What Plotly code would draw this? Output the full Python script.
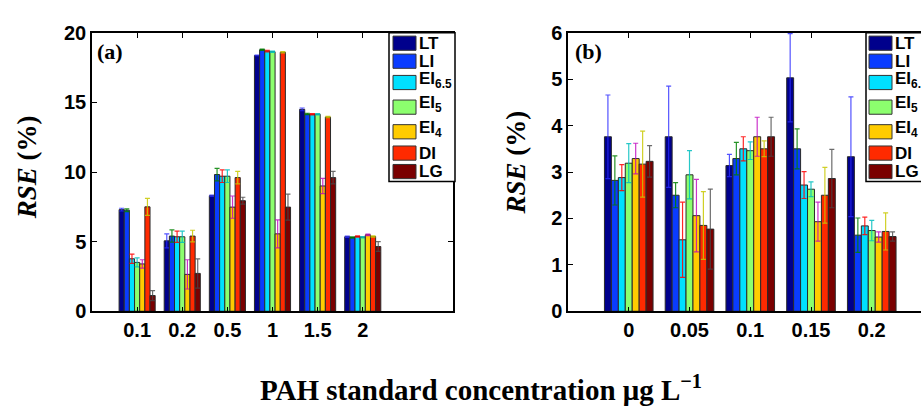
import plotly.graph_objects as go

# ---------------- data ----------------
series = ["LT", "LI", "EI6.5", "EI5", "EI4", "DI", "LG"]
legend_labels = ["LT", "LI", "EI<sub>6.5</sub>", "EI<sub>5</sub>", "EI<sub>4</sub>", "DI", "LG"]

cats_a = ["0.1", "0.2", "0.5", "1", "1.5", "2"]
LT_a = [7.30, 5.06, 8.30, 18.37, 14.50, 5.35]
LI_a = [7.26, 5.40, 9.82, 18.78, 14.17, 5.30]
EI65_a = [3.77, 5.35, 9.70, 18.68, 14.15, 5.37]
EI5_a = [3.51, 5.35, 9.70, 18.64, 14.15, 5.32]
EI4_a = [3.40, 2.65, 7.48, 5.56, 9.00, 5.49]
DI_a = [7.50, 5.40, 9.60, 18.60, 13.95, 5.37]
LG_a = [1.13, 2.72, 7.94, 7.48, 9.60, 4.65]

LT_a_err = [0.10, 0.50, 0.05, 0.02, 0.10, 0.05]
LI_a_err = [0.10, 0.44, 0.45, 0.05, 0.05, 0.05]
EI65_a_err = [0.33, 0.40, 0.45, 0.05, 0.05, 0.05]
EI5_a_err = [0.32, 0.40, 0.45, 0.05, 0.05, 0.05]
EI4_a_err = [0.30, 1.05, 0.80, 1.00, 0.55, 0.05]
DI_a_err = [0.61, 0.42, 0.45, 0.05, 0.05, 0.05]
LG_a_err = [0.36, 1.05, 0.25, 0.93, 0.45, 0.35]

cats_b = ["0", "0.05", "0.1", "0.15", "0.2"]
LT_b = [3.76, 3.76, 3.14, 5.03, 3.33]
LI_b = [2.82, 2.50, 3.29, 3.50, 1.64]
EI65_b = [2.88, 1.54, 3.50, 2.72, 1.84]
EI5_b = [3.19, 2.94, 3.46, 2.63, 1.74]
EI4_b = [3.29, 2.06, 3.76, 1.93, 1.60]
DI_b = [3.17, 1.85, 3.50, 2.50, 1.72]
LG_b = [3.23, 1.77, 3.76, 2.86, 1.61]

LT_b_err = [0.90, 1.09, 0.24, 0.95, 1.29]
LI_b_err = [0.53, 0.27, 0.35, 0.43, 0.37]
EI65_b_err = [0.28, 0.81, 0.26, 0.29, 0.19]
EI5_b_err = [0.42, 0.52, 0.19, 0.16, 0.22]
EI4_b_err = [0.33, 0.78, 0.42, 0.42, 0.11]
DI_b_err = [0.71, 0.73, 0.17, 0.60, 0.40]
LG_b_err = [0.34, 0.86, 0.42, 0.63, 0.10]

# ---------------- style ----------------
bar_colors = ["#00008C", "#0A3CFF", "#00E0FF", "#8CFF6E", "#FFCC00", "#FF2A00", "#7A0000"]
err_colors = ["rgba(40,40,255,0.8)", "rgba(0,128,0,0.85)", "rgba(255,0,0,0.85)",
              "rgba(0,190,190,0.85)", "rgba(190,0,190,0.8)", "rgba(200,200,0,0.85)",
              "rgba(70,70,70,0.8)"]

W, H = 921, 417
def px(x):
    return x / W
def py(y):
    return 1 - y / H

vals_a = [LT_a, LI_a, EI65_a, EI5_a, EI4_a, DI_a, LG_a]
errs_a = [LT_a_err, LI_a_err, EI65_a_err, EI5_a_err, EI4_a_err, DI_a_err, LG_a_err]
vals_b = [LT_b, LI_b, EI65_b, EI5_b, EI4_b, DI_b, LG_b]
errs_b = [LT_b_err, LI_b_err, EI65_b_err, EI5_b_err, EI4_b_err, DI_b_err, LG_b_err]

fig = go.Figure()
for i, name in enumerate(series):
    for cats, vals, errs, xa, ya in [(cats_a, vals_a, errs_a, "x", "y"),
                                      (cats_b, vals_b, errs_b, "x2", "y2")]:
        fig.add_trace(go.Bar(
            x=cats, y=vals[i], name=name, xaxis=xa, yaxis=ya, showlegend=False,
            offsetgroup=str(i),
            marker=dict(color=bar_colors[i], line=dict(color="#2a2a2a", width=1)),
            error_y=dict(type="data", array=errs[i], visible=True,
                         color=err_colors[i], thickness=1.2, width=2.5),
        ))

tickfont = dict(family="Liberation Sans, Arial, sans-serif", size=20, color="black", weight="bold")
ydom = [py(317), py(23)]
axis_common = dict(showline=True, linecolor="black", linewidth=1.5, ticks="inside",
                   ticklen=5, tickcolor="black", tickfont=tickfont, showgrid=False,
                   zeroline=False)

fig.update_layout(
    width=W, height=H, margin=dict(l=0, r=0, t=0, b=0),
    paper_bgcolor="white", plot_bgcolor="white",
    barmode="group", bargap=0.2, bargroupgap=0.0,
    xaxis=dict(domain=[px(92), px(453)], type="category", range=[-1, 7],
               mirror="ticks", anchor="y", **axis_common),
    yaxis=dict(domain=ydom, range=[0, 20], dtick=5, mirror="ticks", anchor="x",
               **axis_common),
    xaxis2=dict(domain=[px(568), 1.0], type="category", range=[-1, (921 - 568) / 60.75 - 1],
                mirror="ticks", anchor="y2", **axis_common),
    yaxis2=dict(domain=ydom, range=[0, 6], dtick=1, anchor="x2", **axis_common),
)

shapes = []
annotations = []
serif = "Liberation Serif, Times New Roman, serif"
sans = "Liberation Sans, Arial, sans-serif"

# legends (drawn as boxes)
row_centers = [34, 53, 75.5, 101.5, 127.5, 150, 169.5]
text_offsets = [0, 0, -3, -3, -3, 0, 0]
for (bx0, bx1, sx0) in [(389, 455, 393), (866, 940, 869)]:
    shapes.append(dict(type="rect", xref="paper", yref="paper",
                       x0=px(bx0), x1=px(bx1), y0=py(180), y1=py(23),
                       fillcolor="white", line=dict(color="black", width=1.5), layer="above"))
    for i, lab in enumerate(legend_labels):
        cy = row_centers[i]
        shapes.append(dict(type="rect", xref="paper", yref="paper",
                           x0=px(sx0), x1=px(sx0 + 23), y0=py(cy + 7.5), y1=py(cy - 7.5),
                           fillcolor=bar_colors[i], line=dict(color="#333333", width=1),
                           layer="above"))
        annotations.append(dict(xref="paper", yref="paper", x=px(sx0 + 24),
                                y=py(cy + text_offsets[i]), text=lab, showarrow=False,
                                xanchor="left", yanchor="middle",
                                font=dict(family=sans, size=17, color="black", weight="bold")))

# panel labels
annotations.append(dict(xref="paper", yref="paper", x=px(110), y=py(43), text="(a)",
                        showarrow=False, xanchor="center", yanchor="middle",
                        font=dict(family=serif, size=22, color="black", weight="bold")))
annotations.append(dict(xref="paper", yref="paper", x=px(588), y=py(43), text="(b)",
                        showarrow=False, xanchor="center", yanchor="middle",
                        font=dict(family=serif, size=22, color="black", weight="bold")))

# y titles
for xc, yc in [(27, 165), (516, 160)]:
    annotations.append(dict(xref="paper", yref="paper", x=px(xc), y=py(yc),
                            text="<i>RSE</i> (%)", textangle=-90, showarrow=False,
                            xanchor="center", yanchor="middle",
                            font=dict(family=serif, size=27, color="black", weight="bold")))

# x title
annotations.append(dict(xref="paper", yref="paper", x=px(258), y=py(398),
                        text="PAH standard concentration μg L<sup>−1</sup>", showarrow=False,
                        xanchor="left", yanchor="middle",
                        font=dict(family=serif, size=29, color="black", weight="bold")))

fig.update_layout(shapes=shapes, annotations=annotations)
fig.write_html("out.html", config={"displayModeBar": False})
